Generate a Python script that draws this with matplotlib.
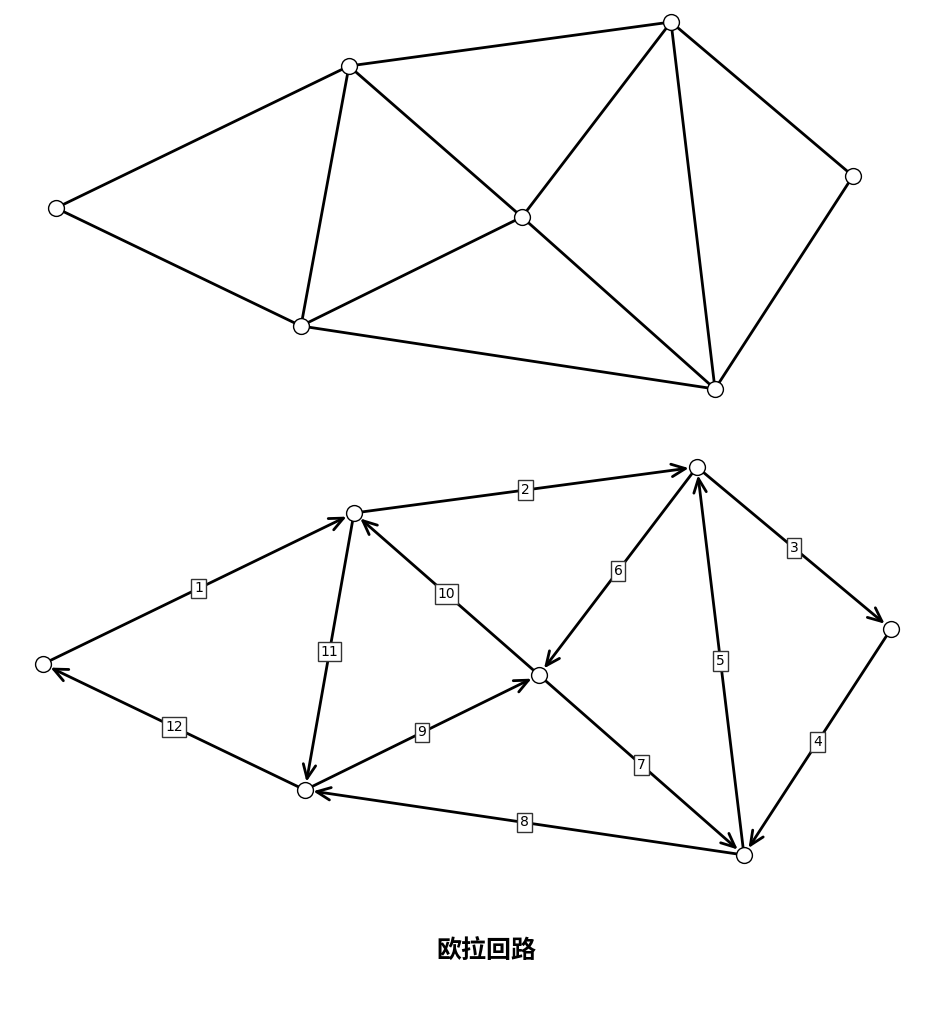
import matplotlib
matplotlib.use("Agg")
import matplotlib.pyplot as plt

top_nodes = {"A": (56, 208), "B": (349, 66), "C": (671, 22), "D": (853, 176),
             "E": (522, 217), "F": (301, 326), "G": (715, 389)}
top_edges = [("A", "B"), ("A", "F"), ("B", "C"), ("B", "F"), ("B", "E"), ("C", "E"),
             ("C", "G"), ("C", "D"), ("D", "G"), ("E", "F"), ("E", "G"), ("F", "G")]

bot_nodes = {"A": (43, 664), "B": (354, 513), "C": (697, 467), "D": (891, 629),
             "E": (539, 675), "F": (305, 790), "G": (744, 855)}
circuit = [("A", "B"), ("B", "C"), ("C", "D"), ("D", "G"), ("G", "C"), ("C", "E"),
           ("E", "G"), ("G", "F"), ("F", "E"), ("E", "B"), ("B", "F"), ("F", "A")]
edge_labels = [str(i) for i in range(1, 13)]
title = "欧拉回路"

W, H = 936, 1019
fig = plt.figure(figsize=(W / 100, H / 100), dpi=100)
ax = fig.add_axes([0, 0, 1, 1])
ax.set_xlim(0, W)
ax.set_ylim(H, 0)
ax.axis("off")

for u, v in top_edges:
    (x1, y1), (x2, y2) = top_nodes[u], top_nodes[v]
    ax.plot([x1, x2], [y1, y2], color="black", lw=2, zorder=1)

for (u, v), lab in zip(circuit, edge_labels):
    (x1, y1), (x2, y2) = bot_nodes[u], bot_nodes[v]
    ax.annotate("", xy=(x2, y2), xytext=(x1, y1),
                arrowprops=dict(arrowstyle="->,head_length=1.0,head_width=0.45",
                                color="black", lw=2, shrinkA=5, shrinkB=6),
                zorder=1)
    ax.text((x1 + x2) / 2, (y1 + y2) / 2, lab, ha="center", va="center",
            fontsize=10, family="DejaVu Sans", zorder=3,
            bbox=dict(boxstyle="square,pad=0.2", fc="white", ec="#333333", lw=1))

for nodes in (top_nodes, bot_nodes):
    xs = [p[0] for p in nodes.values()]
    ys = [p[1] for p in nodes.values()]
    ax.scatter(xs, ys, s=130, facecolor="white", edgecolor="black", linewidth=1, zorder=4)

ax.text(486, 952, title, ha="center", va="center", fontsize=18, fontweight="bold",
        family=["Noto Sans CJK SC", "DejaVu Sans"])

fig.savefig("out.png", dpi=100)
